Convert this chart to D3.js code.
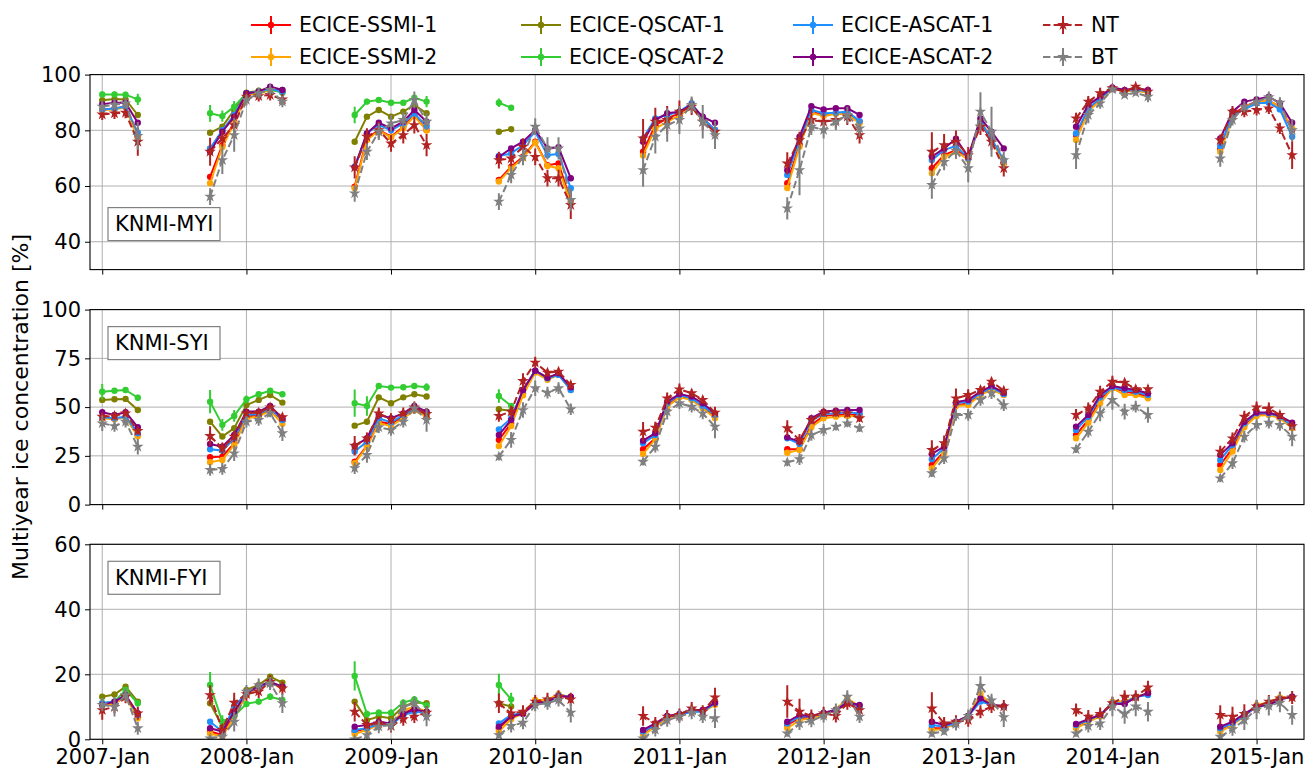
<!DOCTYPE html>
<html><head><meta charset="utf-8">
<script src="https://cdn.jsdelivr.net/npm/d3@7"></script>
<style>body{margin:0;background:#fff} text{font-family:"DejaVu Sans",sans-serif;fill:#000}</style>
</head><body><svg id="c" width="1306" height="769"></svg>
<script>
// ---------------- DATA ----------------
const months = ["2007-01","2007-02","2007-03","2007-04",
"2007-10","2007-11","2007-12","2008-01","2008-02","2008-03","2008-04",
"2008-10","2008-11","2008-12","2009-01","2009-02","2009-03","2009-04",
"2009-10","2009-11","2009-12","2010-01","2010-02","2010-03","2010-04",
"2010-10","2010-11","2010-12","2011-01","2011-02","2011-03","2011-04",
"2011-10","2011-11","2011-12","2012-01","2012-02","2012-03","2012-04",
"2012-10","2012-11","2012-12","2013-01","2013-02","2013-03","2013-04",
"2013-10","2013-11","2013-12","2014-01","2014-02","2014-03","2014-04",
"2014-10","2014-11","2014-12","2015-01","2015-02","2015-03","2015-04"];
const seriesNames = ["ECICE-SSMI-1","ECICE-SSMI-2","ECICE-QSCAT-1","ECICE-QSCAT-2","ECICE-ASCAT-1","ECICE-ASCAT-2","NT","BT"];
const seriesColors = ["#ff0000","#ffa500","#808000","#32cd32","#1e90ff","#800080","#b22222","#808080"];
const panelLabels = ["KNMI-MYI","KNMI-SYI","KNMI-FYI"];
const yTicksMYI = [40,60,80,100], yTicksSYI = [0,25,50,75,100], yTicksFYI = [0,20,40,60];
const yDomMYI = [30,100], yDomSYI = [0,100], yDomFYI = [0,60];
const yAxisTitle = "Multiyear ice concentration [%]";

// ---- MYI ----
const MYI_SSMI1 = [87.5,87.8,88.5,77.5, 63.3,74.7,83.1,93,93.3,94.7,93.9, 59.8,77.1,80.1,77.7,81.3,85.5,80.1, 62.2,66.9,70.5,75.9,67.5,68.1,54.4, 72.3,81.9,84.3,86.1,89.1,84.3,80.1, 61,74.7,86.7,85.5,86.1,86.1,83.1, 66.4,71.1,72.9,70.5,82.5,76.5,68.7, 78.3,87.3,91.2,95.1,93.9,94.5,93.9, 73.5,85.5,88.5,90.3,90.6,88.5,80.1];
const MYI_SSMI2 = [87.3,87.5,88.3,77.1, 61,74,82.5,93,93,94.5,93.9, 59.2,76.5,79.9,77.5,80.7,85.1,79.9, 61.6,66.4,70,75.6,67.2,66.4,53.8, 71,80.6,83,85.4,88.2,83.7,79.5, 59.3,74.1,86.3,85.1,85.9,85.9,82.5, 64.6,70.5,72.3,69.5,83.7,77,68, 76.5,86.7,90.9,94.9,93.9,94.2,93.5, 72.3,84.3,88.3,90.3,90.6,88.5,80.7];
const MYI_QSCAT1 = [90.8,91.2,91.1,85.5, 79.1,81.3,87.3,93.5,94.2,95.1,94.5, 75.9,84.9,87.3,84.9,86.7,89.1,86.1, 79.5,80.4];
const MYI_QSCAT2 = [92.9,92.9,92.8,91.1, 86.1,85.1,88.5,93.3,93.9,94.7,93.5, 85.5,90.3,90.9,89.9,89.9,91.7,90.3, 89.9,88.1];
const MYI_ASCAT1 = [87.5,87.8,88.5,79.1, 73.5,80,85.5,93.3,93.9,95,93.8, 67,78.9,82,80,82.5,86,81.5, 70.8,71.7,74.7,79.5,71.1,71.5,59.2, 77.1,84.3,85.5,86.7,89.7,84.3,80.1, 64,76.5,87.3,86.1,86.3,86.7,83.3, 69.3,72.9,74.4,69.9,83.1,77,69.3, 78.9,87.9,91.5,95.1,94.2,94.7,93.9, 74.4,85.5,87.5,89.7,89.9,87.5,77.7];
const MYI_ASCAT2 = [89.4,89.9,89.9,82.7, 72.3,79.5,84.9,93.3,93.9,95.7,94.5, 66.7,78.9,82.7,80.7,83.1,87.3,83.1, 70.5,73.5,75.9,80.1,73.5,73.9,62.8, 75.9,83.7,86.1,86.7,89.1,84.9,82.7, 65.7,77.7,88.7,87.5,87.9,87.9,85.5, 70.5,73.5,77,70.5,84.3,79.5,73.5, 81.3,89.1,92.1,95.4,94.5,95.1,94.5, 77.1,86.7,90.3,91.1,92.1,89.7,82.7];
const MYI_NT = [85.7,86.1,86.3,75.9, 72.3,77.1,81.9,92.1,92.3,92.7,91.1, 66.7,77.7,80.1,75.3,78.3,81.9,74.7, 69.3,69.9,74.1,70.5,62.8,62.8,53.2, 77.1,83.1,83.7,86.7,88.5,83.1,79.5, 68.1,76.5,83.7,83.1,83.7,84.9,78.3, 72.3,74.7,75.9,71,81.3,75.9,66.4, 84.3,90.3,93.3,95.1,93.9,95.7,93.9, 76.5,86.7,86.7,87.3,87.9,80.7,71.1];
const MYI_BT = [88.5,89.2,89.7,78, 56.2,69.3,78.3,90.9,93.3,94.5,90.3, 57.4,72.3,79.5,82.5,83.7,90.9,83.1, 54.4,64,70.5,81.3,73.5,73.5,55, 65.7,77.7,81.9,83.7,89.1,83.1,78.3, 52,65.7,81.3,80.1,83.1,85.5,80.7, 60.4,68.7,72.7,66.4,86.7,79.5,69.3, 71.1,85.5,89.7,94.7,92.7,93.5,92.1, 69.9,83.7,88.5,90.3,91.9,89.9,80.1];
const MYI_NT_err = [2,2,2,5, 5,3,4,2,2,2,2, 4,3,3,3,3,3,4, 3,3,3,3,3,3,5, 7,5,5,4,3,3,3, 4,3,4,3,3,3,3, 7,4,4,3,3,3,3, 2,2,2,1,1,1,1, 2,2,2,2,2,2,5];
const MYI_BT_err = [2,2,2,5, 3,5,6,2,2,2,2, 3,3,3,3,3,3,3, 3,3,3,3,4,4,4, 6,6,6,5,3,6,5, 4,9,3,3,3,3,3, 5,3,3,5,7,9,3, 5,3,2,1,1,1,2, 3,2,2,2,2,2,4];
const MYI_QSCAT2_err = [1,1,1,2, 3,2,2,1,1,1,1, 3,1,1,1,1,1,2, 1.5,1];

// ---- SYI ----
const SYI_SSMI1 = [44.8,44,44.8,35.8, 24.3,24.6,31.5,45.1,46,48.5,43.4, 22,30.1,42.5,41.4,45.1,48.5,46, 33.2,41.7,57.1,68.2,64.8,67,59.7, 28.4,34,51.1,55.4,54,50.2,45.1, 28.4,28.4,40.9,45.5,46,46,46, 20.3,27.2,51,51.8,56.5,59.5,56.5, 35.7,43.4,53.7,60.2,57.9,57.1,55.4, 20.3,28.9,40.9,46.5,46.5,44.8,40];
const SYI_SSMI2 = [44.3,43.8,44.8,35, 21.7,22.9,30.6,44.3,45.1,48.2,41.4, 21.2,29.7,41.7,40.3,44.3,48.2,45.1, 30,40.3,56,67.7,64,66.5,58.8, 26,33.5,50.2,55,53.7,49.4,44.3, 26.6,28,39.7,44.3,45.1,45.5,45.1, 18.6,26.3,50.6,51.1,56.2,59,56.2, 34,42,52,59.7,56.2,56.2,54.5, 17.8,27.2,39.7,45.5,46,44.3,39.2];
const SYI_QSCAT1 = [53.7,54,54.2,48.5, 42.5,34.9,39.2,51.1,53.7,56.2,52.3, 40.5,42.5,55,52,55,56.6,55.4, 48.9,48];
const SYI_QSCAT2 = [57.9,58.4,58.8,54.8, 52.8,40.9,45.5,54,56.6,58.4,56.6, 52,50.6,60.8,60,60.2,60.8,60.2, 55.7,50.6];
const SYI_ASCAT1 = [44.8,44.3,45.1,36.6, 28.4,27.7,34,46,46.5,49.4,43.4, 27.2,32.3,44.3,42.1,46,49.4,46.8, 38.6,44.3,58.8,68.7,64.8,66.5,58.8, 31.5,35.7,52,56.2,54.5,50.6,46, 34,31.1,43.1,46.5,46.8,47.2,46.8, 23.3,28.9,52,52.8,57.1,60.2,56.7, 38.3,45.1,55,60.2,58.8,57.9,56.2, 22.9,30.6,41.7,46.8,46.8,45.1,40.3];
const SYI_ASCAT2 = [47.4,46,47.4,39.7, 31.1,29.7,35.7,47.7,47.7,50.6,44.3, 30.1,34,46.1,44.3,46.8,50.6,47.7, 35.7,43.4,58.8,68.7,65.1,67.3,60.2, 32.8,36.6,52.8,56.7,55.4,52,46.8, 34.5,32.3,44.3,47.7,48.2,48.5,48.5, 26,29.7,52.5,53.7,57.9,60.8,57.4, 40,46,56.2,60.8,59.7,58.8,57.1, 25.5,31.5,42.5,47.2,47.2,45.5,42];
const SYI_NT = [45.1,45.5,46.8,37.8, 35.2,28.9,34.9,46.8,47.2,49.9,44.8, 30.2,34,46.8,43.8,46.8,49.9,46.5, 45.5,47.7,63.4,72.8,67.7,68.2,61.4, 37.4,39.5,54.5,59.1,57.1,53.7,47.2, 39.2,33.2,43.4,47.2,47.2,46.8,44.3, 28,31.5,54.5,56.2,58.8,63.1,58.5, 46,49.4,57.9,63.1,62.6,59.2,59.2, 27.2,34,45.1,49.9,49.4,46,40.3];
const SYI_BT = [41.7,40.3,42.5,29.7, 17.8,18.3,26.3,42.5,43.4,46.8,36.6, 18.7,25.5,39.7,38.3,42.5,49.4,43.4, 24.6,33.2,48.5,59.7,57.4,59.7,48.9, 22,29.7,47.7,52,50.2,46.8,40, 21.7,23.3,35.7,38.3,40,41.7,39.2, 16.1,23.8,46,46,53.7,57.1,51, 28.4,37.4,46.8,53.7,47.7,50.2,46, 13.5,21.2,34.9,40.9,42,40.9,34.9];
const SYI_NT_err = [2,2,2,2, 5,3,3,2,2,2,2, 5,3,3,3,3,3,3, 3,3,4,3,2,2,2, 5,3,3,3,2,2,3, 4,3,2,2,2,2,2, 5,4,5,3,2,2,2, 3,3,3,3,2,2,2, 3,3,3,3,3,2,2];
const SYI_BT_err = [4,3,3,4, 3,3,4,3,3,2,4, 3,4,3,3,3,3,6, 2,4,4,4,3,3,3, 2,3,4,3,3,3,6, 2,3,3,3,2,2,2, 2,3,3,3,3,3,3, 2,3,4,5,4,3,4, 2,3,3,3,3,3,5];
const SYI_QSCAT2_err = [4,1,1,1.5, 6,3,3,2,1,1,1, 7,5,1,1,1,1,2, 3.5,1];

// ---- FYI ----
const FYI_SSMI1 = [10.6,11.1,13.1,7.5, 2.4,1.3,7.5,13.6,16.2,17.4,16, 2.4,3.4,4.9,4.4,8,9.5,8.5, 3.4,7,8,11.6,12.1,13.3,12.9, 2,4.4,7,7.5,8.8,8.8,10.9, 4.4,6.5,6.8,7.8,8.8,11.1,10.1, 3.4,3.4,5.1,7.2,12.1,10.4,10.1, 4,5.9,7.5,11.1,11.1,12.9,14, 2.9,4.9,7.2,10.3,10.9,12.6,12.9];
const FYI_SSMI2 = [10.6,11.1,13.1,6.5, 1.8,0.8,7,13.6,16.2,17.4,15.7, 1.6,2.9,4.4,4.4,9,10,8.5, 2.4,6.2,8,12.1,12.1,13.9,12.9, 1.3,3.9,6.5,7.5,8.8,8.5,10.6, 3.4,5.9,6.5,7.5,9.2,12.6,10.1, 2.9,3.1,5.1,7.2,14,10.6,10.1, 3.4,5.4,7,11.6,11.6,13.1,14.2, 2.4,4.4,7,10.6,11.3,12.9,12.9];
const FYI_QSCAT1 = [13.1,13.8,16.2,11.6, 11.1,3.9,8,15.2,16.7,19.3,17.4, 11.6,5.9,7,6.5,10.1,11.3,11.1, 11.1,10.1];
const FYI_QSCAT2 = [11.1,11.6,15.2,11.1, 16.7,5.4,7.2,10.9,11.6,13.1,12.1, 19.5,7.8,8.2,8.2,11.3,12.3,10.4, 16.7,12.3];
const FYI_ASCAT1 = [11.1,11.6,13.6,7.5, 5.4,2.4,10.1,14.2,16.2,17.2,16.2, 2.9,3.4,4.7,4.4,7.5,8.5,8.2, 4.9,7.5,8,11.1,11.1,13.6,12.9, 2.4,4.4,7,7.5,8.5,8.5,11.1, 4.9,7,7,8,9,11.6,10.1, 4.4,3.9,5.1,7.2,11.6,10.6,10.1, 4.4,5.9,7.5,11.1,11.1,13.1,13.6, 3.4,4.9,7.2,10.1,10.6,12.3,13.1];
const FYI_ASCAT2 = [10.6,11.6,13.6,8, 3.4,2.4,8.5,14.2,16.4,17.7,16.2, 3.9,4.4,5.4,4.9,7.8,9.2,8.5, 3.9,7,7.8,11.1,11.6,13.3,13.1, 2.9,4.9,7.2,7.8,9,9,11.3, 5.4,7.5,7.2,8.2,9,11.3,10.6, 5.4,4.4,5.4,7.2,12.6,10.6,10.1, 4.7,6.2,7.5,10.9,10.9,12.9,14.2, 3.9,5.4,7.8,10.1,10.6,12.3,13.1];
const FYI_NT = [9,10,13.1,8, 13.6,2.9,11.3,13.9,14.7,17.7,15.7, 8.5,4.4,4.9,4.1,6.2,7,8.2, 11.1,8,8.5,11.6,12.3,13.1,12.3, 7.2,4.9,7,7.5,9.5,8.5,12.9, 11.6,8.5,7.2,8,7.2,11.1,9, 9.5,4.9,5.4,5.9,8.5,10.1,10.1, 9,7,7.8,11.1,13.1,13.1,16, 7.5,7,7.8,10.1,11.6,12.6,12.9];
const FYI_BT = [10.6,10,13.6,3.4, 0.3,0.8,5.4,14.7,16.7,17.2,11.1, 0,1.3,3.9,4.4,10,11.1,7, 1.3,4.1,5.1,10.6,11.1,12.1,8.2, 0.3,2.9,5.9,7,8.2,7,6.5, 1.8,4.9,5.7,7.2,9,13.1,7, 1.8,2.4,4.7,7.2,16.4,12,6.8, 1.8,4.1,4.9,10.1,7.8,10.1,8.5, 0.8,3.1,5.9,9.2,10.3,11.3,7.5];
const FYI_NT_err = [3,2,2,2, 3,2,3,2,2,2,2, 3,2,2,2,2,2,2, 3,2,2,2,2,2,2, 3,2,2,2,2,2,3, 5,4,2,2,2,2,2, 5,2,2,2,2,2,2, 2,2,2,2,2,2,2, 3,3,3,2,2,2,2];
const FYI_BT_err = [2,3,2,2, 1,1,3,2,2,2,3, 1,2,2,2,2,2,3, 1,2,2,2,2,2,3, 1,2,2,2,2,2,3, 1,2,2,2,2,2,2, 1,1,2,2,3,2,3, 1,2,2,3,3,3,3, 1,2,3,3,3,3,3];
const FYI_QSCAT2_err = [1.5,1,1,1, 4,2,1,1,1,1,1, 4.5,1,1,1,1,1,1, 3.5,2];

// ---------------- CHART ----------------
const svg = d3.select("#c");
const FS = 21, LFS = 20.5;
const left = 90, right = 1304, panelTops = [74.6, 309.6, 544.3], panelH = 195;
const parse = d3.utcParse("%Y-%m");
const dates = months.map(parse);
const x = d3.scaleUtc().domain([new Date(Date.UTC(2006,11,1)), new Date(Date.UTC(2015,4,1))]).range([left, right]);
const seasonOf = []; let s = 0;
dates.forEach((d,i)=>{ if(i>0 && (d - dates[i-1]) > 45*864e5) s++; seasonOf.push(s); });

const panels = [
  {label: panelLabels[0], dom: yDomMYI, ticks: yTicksMYI, data: [MYI_SSMI1,MYI_SSMI2,MYI_QSCAT1,MYI_QSCAT2,MYI_ASCAT1,MYI_ASCAT2,MYI_NT,MYI_BT], err: {3: MYI_QSCAT2_err, 6: MYI_NT_err, 7: MYI_BT_err}, box: "bottom"},
  {label: panelLabels[1], dom: yDomSYI, ticks: yTicksSYI, data: [SYI_SSMI1,SYI_SSMI2,SYI_QSCAT1,SYI_QSCAT2,SYI_ASCAT1,SYI_ASCAT2,SYI_NT,SYI_BT], err: {3: SYI_QSCAT2_err, 6: SYI_NT_err, 7: SYI_BT_err}, box: "top"},
  {label: panelLabels[2], dom: yDomFYI, ticks: yTicksFYI, data: [FYI_SSMI1,FYI_SSMI2,FYI_QSCAT1,FYI_QSCAT2,FYI_ASCAT1,FYI_ASCAT2,FYI_NT,FYI_BT], err: {3: FYI_QSCAT2_err, 6: FYI_NT_err, 7: FYI_BT_err}, box: "top"}
];
const yearTicks = d3.range(2007, 2016).map(yr => new Date(Date.UTC(yr,0,1)));
const star = d3.symbol().type(d3.symbolStar).size(42);

panels.forEach((p, pi) => {
  const top = panelTops[pi], bot = top + panelH;
  const y = d3.scaleLinear().domain(p.dom).range([bot, top]);
  const g = svg.append("g");
  const clipId = "clip" + pi;
  svg.append("clipPath").attr("id", clipId).append("rect").attr("x", left).attr("y", top).attr("width", right-left).attr("height", panelH);
  g.selectAll(".hg").data(p.ticks).enter().append("line")
    .attr("x1", left).attr("x2", right).attr("y1", d=>y(d)).attr("y2", d=>y(d))
    .attr("stroke", "#b0b0b0").attr("stroke-width", 1);
  g.selectAll(".vg").data(yearTicks).enter().append("line")
    .attr("x1", d=>x(d)).attr("x2", d=>x(d)).attr("y1", top).attr("y2", bot)
    .attr("stroke", "#b0b0b0").attr("stroke-width", 1);
  const yAxis = d3.axisLeft(y).tickValues(p.ticks).tickSize(5).tickPadding(4);
  const ya = g.append("g").attr("transform", `translate(${left},0)`).call(yAxis);
  ya.select(".domain").remove();
  ya.selectAll("text").style("font-size", FS+"px").style("font-family","DejaVu Sans");
  const xAxis = d3.axisBottom(x).tickValues(yearTicks).tickSize(5).tickPadding(5).tickFormat(pi===2 ? d3.utcFormat("%Y-%b") : "");
  const xa = g.append("g").attr("transform", `translate(0,${bot})`).call(xAxis);
  xa.select(".domain").remove();
  xa.selectAll("text").style("font-size", FS+"px").style("font-family","DejaVu Sans");

  const plot = g.append("g").attr("clip-path", `url(#${clipId})`);
  p.data.forEach((arr, si) => {
    const col = seriesColors[si];
    const isRef = si >= 6;
    const errs = p.err[si];
    const pts = dates.map((d,i)=>({d, v: arr[i], e: errs ? errs[i] : null, s: seasonOf[i]}))
      .filter(o => o.v !== undefined && o.v !== null);
    const sg = plot.append("g");
    sg.selectAll(".eb").data(pts.filter(o=>o.e)).enter().append("line")
      .attr("x1", o=>x(o.d)).attr("x2", o=>x(o.d)).attr("y1", o=>y(o.v-o.e)).attr("y2", o=>y(o.v+o.e))
      .attr("stroke", col).attr("stroke-width", 2);
    const groups = d3.groups(pts, o=>o.s);
    const line = d3.line().x(o=>x(o.d)).y(o=>y(o.v));
    groups.forEach(([k, gp]) => {
      sg.append("path").attr("d", line(gp)).attr("fill","none").attr("stroke", col).attr("stroke-width", 2)
        .attr("stroke-dasharray", isRef ? "7.4,3.2" : null);
    });
    if (isRef) {
      sg.selectAll(".mk").data(pts).enter().append("path").attr("d", star)
        .attr("transform", o=>`translate(${x(o.d)},${y(o.v)})`).attr("fill", col);
    } else {
      sg.selectAll(".mk").data(pts).enter().append("circle")
        .attr("cx", o=>x(o.d)).attr("cy", o=>y(o.v)).attr("r", 3.2).attr("fill", col);
    }
  });
  g.append("rect").attr("x", left).attr("y", top).attr("width", right-left).attr("height", panelH)
    .attr("fill","none").attr("stroke","#000").attr("stroke-width",1.1);
  const bx = 108, bw = 112, bh = 33;
  const by = p.box === "bottom" ? bot - 29 - bh : top + 17;
  g.append("rect").attr("x", bx).attr("y", by).attr("width", bw).attr("height", bh)
    .attr("fill","#fff").attr("stroke","#808080").attr("stroke-width",1.2);
  g.append("text").attr("x", bx + 7).attr("y", by + bh/2).attr("dy","0.35em").style("font-size", FS+"px").text(p.label);
});

svg.append("text").attr("transform", `translate(28,${(panelTops[0]+panelTops[2]+panelH)/2}) rotate(-90)`)
  .attr("text-anchor","middle").style("font-size", "22px").text(yAxisTitle);

// legend: marker centres per column
const legCenters = [271, 541, 813, 1063], legRows = [25, 57];
seriesNames.forEach((name, i) => {
  const cx = legCenters[Math.floor(i/2)], cy = legRows[i%2], col = seriesColors[i];
  const lg = svg.append("g");
  lg.append("line").attr("x1", cx-20).attr("x2", cx+20).attr("y1", cy).attr("y2", cy)
    .attr("stroke", col).attr("stroke-width", 2).attr("stroke-dasharray", i>=6 ? "7.4,3.2" : null);
  lg.append("line").attr("x1", cx).attr("x2", cx).attr("y1", cy-9).attr("y2", cy+9).attr("stroke", col).attr("stroke-width", 2);
  if (i >= 6) lg.append("path").attr("d", star).attr("transform", `translate(${cx},${cy})`).attr("fill", col);
  else lg.append("circle").attr("cx", cx).attr("cy", cy).attr("r", 3.2).attr("fill", col);
  lg.append("text").attr("x", cx + 28).attr("y", cy).attr("dy","0.35em").style("font-size", LFS+"px").text(name);
});
</script></body></html>
